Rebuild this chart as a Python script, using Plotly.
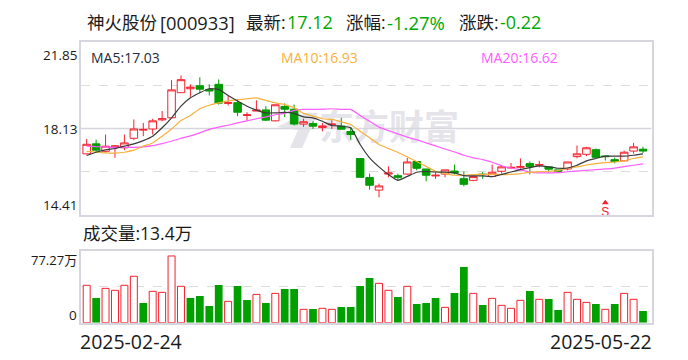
import plotly.graph_objects as go

W, H = 688, 360
RED = "#F5222D"
GREEN = "#009C00"
FRAME = "#D6D6DE"
TEXT = "#1A1A1A"
CJK = "Noto Sans CJK SC"

opens = [17.04,17.47,17.15,17.34,17.30,17.71,18.06,18.11,18.50,18.59,19.67,19.84,19.97,19.81,20.03,19.21,19.24,18.69,18.88,18.93,
         18.46,19.08,18.96,18.32,18.34,18.17,18.29,18.23,18.00,16.84,16.02,15.48,16.17,16.10,16.17,16.71,16.39,16.09,16.17,16.30,
         15.97,15.90,16.17,16.07,16.29,16.43,16.46,16.62,16.55,16.48,16.35,16.39,16.92,17.02,17.22,16.95,16.79,16.74,17.16,17.24]
highs = [17.68,17.65,17.87,17.40,17.87,18.52,18.37,18.55,18.88,20.21,20.41,20.03,20.33,20.03,20.24,19.55,19.38,18.83,19.34,19.09,
         19.16,19.21,19.16,18.55,18.44,18.37,18.49,18.59,18.20,16.84,16.19,15.76,16.50,16.19,16.86,16.71,16.39,16.29,16.35,16.58,
         16.28,16.10,16.26,16.58,16.55,16.65,16.84,16.71,16.74,16.48,16.35,16.69,17.40,17.34,17.27,16.95,16.88,17.18,17.51,17.34]
lows = [17.02,17.11,17.08,16.87,17.20,17.63,17.80,17.87,18.44,18.59,19.67,19.49,19.67,19.55,19.16,19.12,18.66,18.47,18.88,18.45,
        18.43,18.62,18.26,18.20,18.11,18.01,18.11,18.09,17.65,16.03,15.50,15.17,16.03,15.89,16.15,16.33,15.86,15.96,16.03,16.15,
        15.64,15.86,15.96,16.07,16.19,16.40,16.40,16.16,16.46,16.23,16.25,16.33,16.85,16.94,16.87,16.75,16.63,16.71,17.05,17.08]
closes = [17.45,17.20,17.37,17.38,17.51,18.11,18.09,18.46,18.55,19.79,20.23,19.91,19.82,19.74,19.22,19.24,18.83,18.72,18.92,18.49,
          19.15,18.96,18.32,18.42,18.23,18.24,18.32,18.10,17.87,16.03,15.69,15.66,16.22,16.03,16.69,16.42,16.12,16.12,16.35,16.22,
          15.73,16.06,16.15,16.25,16.48,16.46,16.49,16.49,16.58,16.38,16.29,16.69,17.04,17.30,16.89,16.92,16.71,17.11,17.34,17.16]

ma5 = [16.97,17.11,17.21,17.27,17.37,17.47,17.61,17.80,18.16,18.59,19.09,19.45,19.67,19.84,19.81,19.55,19.31,19.09,18.92,18.80,
       18.80,18.82,18.78,18.63,18.59,18.44,18.26,18.23,18.16,17.44,16.87,16.48,16.15,15.90,16.07,16.25,16.28,16.26,16.25,16.22,
       16.10,16.09,16.09,16.06,16.15,16.26,16.36,16.45,16.52,16.48,16.42,16.43,16.55,16.74,16.84,16.94,16.94,16.94,16.98,17.04]
ma10 = [17.15,17.12,17.08,17.07,17.11,17.20,17.37,17.51,17.80,18.11,18.47,18.69,18.98,19.13,19.23,19.32,19.36,19.41,19.45,19.34,
        19.23,19.16,19.02,18.78,18.66,18.55,18.52,18.42,18.30,18.01,17.73,17.44,17.27,17.11,16.91,16.71,16.50,16.29,16.19,16.12,
        16.12,16.15,16.16,16.16,16.15,16.16,16.19,16.25,16.27,16.29,16.32,16.43,16.48,16.56,16.62,16.66,16.69,16.74,16.84,16.91]
ma20 = [17.37,17.35,17.34,17.32,17.32,17.32,17.34,17.39,17.48,17.58,17.71,17.81,17.94,18.09,18.19,18.27,18.37,18.46,18.55,18.63,
        18.72,18.78,18.91,18.95,18.95,18.96,18.98,18.95,18.95,18.69,18.44,18.19,18.04,17.90,17.76,17.65,17.51,17.38,17.25,17.12,
        16.98,16.87,16.79,16.68,16.53,16.43,16.35,16.25,16.22,16.22,16.23,16.27,16.30,16.33,16.36,16.39,16.43,16.49,16.55,16.61]

volumes = [40.3,26.6,37.0,34.9,40.3,50.0,21.2,33.8,32.7,71.9,39.2,26.6,28.8,18.0,40.6,23.0,39.5,24.4,30.5,21.2,
           31.6,36.3,36.3,14.4,14.7,15.5,14.4,16.9,16.9,39.5,48.2,42.4,34.9,27.7,39.2,20.1,21.2,26.6,16.5,32.0,
           60.0,31.6,19.0,26.2,18.7,15.5,24.1,34.1,25.2,25.5,13.7,32.7,25.2,21.9,20.1,14.4,20.1,31.6,25.2,12.6]
vol_up = [1,0,1,1,1,1,0,1,1,1,1,0,0,0,0,1,0,0,1,0,1,0,0,1,0,1,1,0,0,0,
          0,1,1,0,1,0,0,0,1,0,0,1,0,1,1,1,1,0,1,0,0,1,1,1,0,1,0,1,1,0]

price_ticks = [21.85, 18.13, 14.41]
price_dashed = [19.99, 16.27]
vol_max = 77.27
sell_marker_index = 55
sell_marker_price = 14.9
first_date, last_date = "2025-02-24", "2025-05-22"

idx = list(range(len(closes)))
xr = [-0.657, 59.9]

fig = go.Figure()

fig.add_trace(go.Candlestick(
    x=idx, open=opens, high=highs, low=lows, close=closes, whiskerwidth=0,
    increasing=dict(line=dict(color=RED, width=1), fillcolor="rgba(255,255,255,1)"),
    decreasing=dict(line=dict(color=GREEN, width=1), fillcolor=GREEN),
    xaxis="x", yaxis="y", hoverinfo="skip"))

for vals, col, wd in [(ma20, "#FF5CFF", 1.2), (ma10, "#F7B13C", 1.2), (ma5, "#3A3A3A", 1.2)]:
    fig.add_trace(go.Scatter(x=idx, y=vals, mode="lines", line=dict(color=col, width=wd, shape="spline", smoothing=0.4),
                             xaxis="x", yaxis="y", hoverinfo="skip"))

fig.add_trace(go.Scatter(
    x=[sell_marker_index], y=[sell_marker_price + 0.04], mode="markers+text", text=["S"], textposition="bottom center",
    marker=dict(symbol="triangle-up", size=6, color=RED), textfont=dict(color=RED, size=12, family="Liberation Sans"),
    xaxis="x", yaxis="y", hoverinfo="skip"))

ux = [i for i in idx if vol_up[i]]
dx = [i for i in idx if not vol_up[i]]
fig.add_trace(go.Bar(x=ux, y=[volumes[i] for i in ux], width=0.74,
                     marker=dict(color="white", line=dict(color=RED, width=1)), xaxis="x2", yaxis="y2", hoverinfo="skip"))
fig.add_trace(go.Bar(x=dx, y=[volumes[i] for i in dx], width=0.82,
                     marker=dict(color="#00A000", line=dict(width=0)), xaxis="x2", yaxis="y2", hoverinfo="skip"))

xl, xh = 80.5 / W, 651.5 / W
def yf(p):
    return 1 - p / H

axis_common = dict(showline=True, mirror=True, linecolor=FRAME, linewidth=1.5, zeroline=False, ticks="", showticklabels=False)
fig.update_layout(
    width=W, height=H, margin=dict(l=0, r=0, t=0, b=0), paper_bgcolor="white", plot_bgcolor="rgba(0,0,0,0)",
    showlegend=False, barmode="overlay", boxgap=0.2, boxgroupgap=0,
    xaxis=dict(domain=[xl, xh], range=xr, showgrid=False, rangeslider=dict(visible=False), anchor="y", **axis_common),
    yaxis=dict(domain=[yf(215), yf(42)], range=[price_ticks[2], price_ticks[0]], tickvals=price_dashed, showgrid=True,
               gridcolor="#DDDDDD", griddash="dash", gridwidth=1, anchor="x", **axis_common),
    xaxis2=dict(domain=[xl, xh], range=xr, showgrid=False, anchor="y2", **axis_common),
    yaxis2=dict(domain=[yf(322.7), yf(251)], range=[0, vol_max], tickvals=[vol_max / 2], showgrid=True,
                gridcolor="#DDDDDD", griddash="dash", gridwidth=1, anchor="x2", **axis_common),
)

# solid middle line of the price panel
fig.add_shape(type="line", xref="x", yref="y", x0=xr[0], x1=xr[1], y0=price_ticks[1], y1=price_ticks[1],
              line=dict(color=FRAME, width=1.5), layer="below")

# watermark
fig.add_shape(type="path", xref="paper", yref="paper", layer="below", fillcolor="#E4E4EA", line=dict(width=0),
              path=f"M {277/W} {yf(127)} L {305/W} {yf(113)} L {318/W} {yf(113)} L {302/W} {yf(148)} L {290/W} {yf(148)} L {298/W} {yf(130)} Z")
fig.add_shape(type="rect", xref="paper", yref="paper", x0=320 / W, x1=458 / W, y0=yf(150), y1=yf(110), layer="below",
              fillcolor="rgba(0,0,0,0)", line=dict(width=0),
              label=dict(text="东方财富", font=dict(family=CJK, size=35, color="#E4E4EA", weight="bold"),
                         textposition="middle center"))

def txt(x, y, s, color=TEXT, size=14, anchor="left"):
    fig.add_annotation(xref="paper", yref="paper", x=x / W, y=yf(y), text=s, showarrow=False, xanchor=anchor,
                       yanchor="middle", align=anchor, borderpad=0, borderwidth=0,
                       font=dict(family=f"Open Sans, {CJK}", size=size, color=color))

GT = "#00A800"
HS = 17.5
txt(87, 22, "神火股份", size=HS)
txt(160, 22, "[000933]", size=18.3)
txt(246, 22, "最新:", size=HS)
txt(287, 22, "17.12", GT, 18)
txt(346, 22, "涨幅:", size=HS)
txt(387, 22, "-1.27%", GT, 18.5)
txt(459, 22, "涨跌:", size=HS)
txt(500, 22, "-0.22", GT, 18)

txt(91, 57, "MA5:17.03", "#1F2D3D", 14)
txt(281, 57, "MA10:16.93", "#F7B13C", 14)
txt(481, 57, "MA20:16.62", "#FF5CFF", 14)

txt(77, 55, str(price_ticks[0]), anchor="right", size=13.5)
txt(77, 129, str(price_ticks[1]), anchor="right", size=13.5)
txt(77, 205, str(price_ticks[2]), anchor="right", size=13.5)
txt(83, 233, "成交量:13.4万", size=17.5)
txt(77, 260, "77.27万", anchor="right", size=13)
txt(77, 315, "0", anchor="right", size=13.5)
txt(80, 341, first_date, size=19.5)
txt(652, 341, last_date, size=19.5, anchor="right")

fig.write_html("out.html", config={"displayModeBar": False},
               post_script="document.body.style.margin='0';document.body.style.overflow='hidden';")
